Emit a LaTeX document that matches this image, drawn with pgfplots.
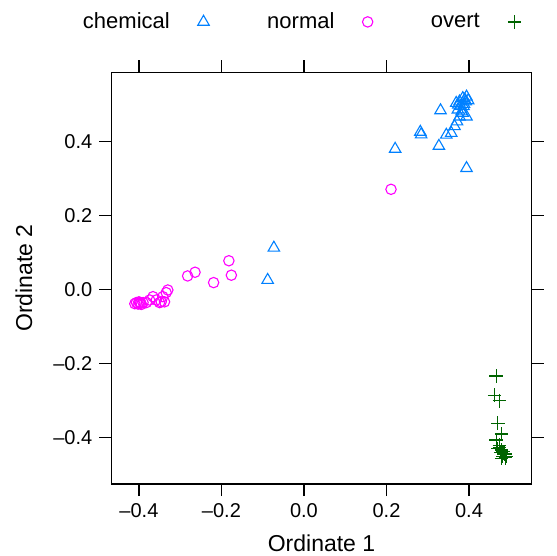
\documentclass[border=0pt]{standalone}
\usepackage{pgfplots}
\pgfplotsset{compat=1.18}
\usepackage{fontspec}
\setmainfont{Liberation Sans}
\definecolor{chem}{HTML}{0080FF}
\definecolor{norm}{HTML}{FF00FF}
\definecolor{ovrt}{HTML}{006400}
\begin{document}
\begin{tikzpicture}
\begin{axis}[
    scale only axis,
    width=210.2pt, height=205.85pt,
    xmin=-0.467, xmax=0.552, ymin=-0.526, ymax=0.586,
    xtick={-0.4,-0.2,0,0.2,0.4},
    xticklabels={\textendash0.4,\textendash0.2,0.0,0.2,0.4},
    ytick={-0.4,-0.2,0,0.2,0.4},
    yticklabels={\textendash0.4,\textendash0.2,0.0,0.2,0.4},
    tick align=outside, major tick length=6pt,
    tick style={black, line width=0.6pt},
    axis line style={line width=0.6pt},
    ticklabel style={font=\fontsize{10}{12}\selectfont},
    xlabel={Ordinate 1}, ylabel={Ordinate 2},
    label style={font=\fontsize{11.5}{13}\selectfont},
    xlabel style={at={(axis description cs:0.5,-0.1435)}, anchor=center},
    ylabel style={at={(axis description cs:-0.2077,0.5)}, anchor=center},
    legend columns=3, legend plot pos=right,
    legend style={draw=none, at={(0,1)}, anchor=west,
        xshift=-14.15pt, yshift=25.2pt,
        inner sep=0pt, outer sep=0pt,
        font=\fontsize{11}{13}\selectfont,
        nodes={inner sep=0pt},
        /tikz/every odd column/.append style={column sep=14pt},
        /tikz/every even column/.append style={column sep=29pt}},
    legend image code/.code={\draw[#1] plot coordinates {(0pt,0pt)};},
    clip=false,
]

% chemical
\addplot[only marks, mark=triangle, mark size=3.3pt, chem, line width=0.55pt] coordinates {
    (-0.073,0.112) (-0.088,0.025)
    (0.331,0.483) (0.282,0.425) (0.284,0.418) (0.221,0.379)
    (0.327,0.387) (0.394,0.327)
    (0.357,0.422) (0.345,0.417) (0.365,0.440) (0.371,0.453)
    (0.377,0.466) (0.382,0.480) (0.387,0.494) (0.392,0.507)
    (0.394,0.520) (0.385,0.516) (0.377,0.507) (0.369,0.503)
    (0.373,0.485) (0.385,0.476) (0.394,0.466) (0.388,0.500)
    (0.380,0.495) (0.390,0.512) (0.398,0.510) (0.374,0.498)
};
\addlegendentry{chemical}

% normal
\addplot[only marks, mark=o, mark size=2.6pt, norm, line width=0.55pt] coordinates {
    (0.211,0.270)
    (-0.182,0.077) (-0.176,0.038) (-0.219,0.018) (-0.264,0.046)
    (-0.282,0.036) (-0.330,-0.002) (-0.334,-0.009)
    (-0.338,-0.034) (-0.346,-0.034) (-0.358,-0.029) (-0.366,-0.020)
    (-0.374,-0.029) (-0.382,-0.036) (-0.390,-0.036) (-0.398,-0.036)
    (-0.406,-0.036) (-0.410,-0.039) (-0.400,-0.034) (-0.394,-0.041)
    (-0.342,-0.020) (-0.350,-0.036) (-0.402,-0.040) (-0.396,-0.038)
};
\addlegendentry{normal}

% overt
\addplot[only marks, mark=+, mark size=3.4pt, ovrt, line width=0.6pt] coordinates {
    (0.466,-0.234) (0.462,-0.286) (0.474,-0.301) (0.470,-0.362)
    (0.479,-0.391) (0.466,-0.407) (0.474,-0.421) (0.470,-0.430)
    (0.479,-0.434) (0.482,-0.439) (0.487,-0.445) (0.482,-0.452)
    (0.491,-0.452) (0.479,-0.457) (0.474,-0.427) (0.485,-0.443)
    (0.488,-0.455) (0.477,-0.440)
};
\addlegendentry{overt}

\end{axis}
\pgfresetboundingbox
\path ([xshift=-55.65pt,yshift=-35.5pt]current axis.south west)
    rectangle ([xshift=12.65pt,yshift=36.15pt]current axis.north east);
\end{tikzpicture}
\end{document}
